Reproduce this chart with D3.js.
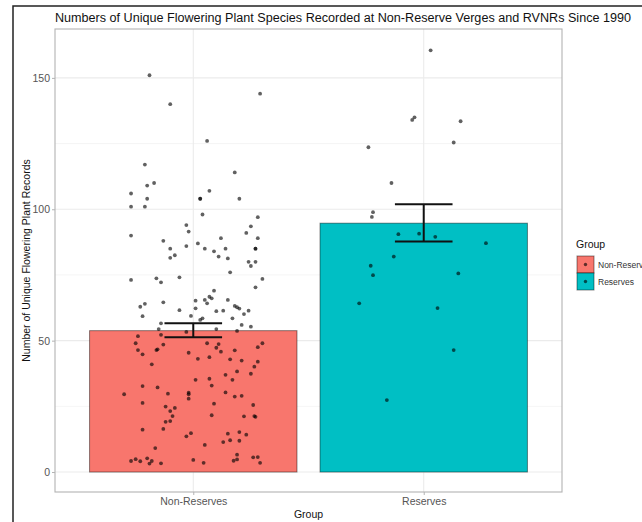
<!DOCTYPE html>
<html>
<head>
<meta charset="utf-8">
<script src="https://cdn.jsdelivr.net/npm/d3@7"></script>
<style>
  body { margin: 0; background: #fff; }
  svg { font-family: "Liberation Sans", Arial, sans-serif; }
</style>
</head>
<body>
<div id="chart"></div>
<script>
// groups and summary values
var groups = ['Non-Reserves', 'Reserves'];
var groupColors = ['#F8766D', '#00BFC4'];
var means = [53.8, 94.7];
var seLow = [51.3, 87.7];
var seHigh = [56.6, 101.9];
var yTicks = [0, 50, 100, 150];
var yMinor = [25, 75, 125];

// jittered points: [offset from group centre (in group steps), value]
var nonReservePts = [
  [-0.19,151],[0.29,144],[-0.10,140],[0.06,126],[-0.21,117],[0.18,114],[-0.20,109],[-0.17,110],
  [-0.27,106],[0.07,107],[-0.20,104],[0.03,104],[0.03,104],[0.20,104],[-0.27,101],[-0.21,101],
  [0.04,98],[0.28,97],[-0.03,94],[0.25,93.5],[-0.02,91.5],[0.23,91],[-0.27,90],[0.12,89],
  [0.28,89],[-0.13,88],[0.02,87],[-0.10,85],[-0.03,86],[0.05,85],[0.14,85],[0.27,85],[0.27,85],
  [0.09,84],[-0.08,82.5],[-0.10,81.5],[0.11,82],[0.15,81.3],[0.24,80],[0.27,80],[0.25,78.4],
  [0.16,76],[-0.27,73.1],[-0.16,73.7],[-0.14,72.2],[-0.06,74.1],[0.30,73.5],[0.27,70.3],
  [0.09,69],[0.07,66.7],[0.08,66.1],[0.01,65.2],[0.05,65.5],[0.06,64.2],[0.15,65.5],[-0.13,64.6],
  [-0.21,64],[-0.23,62.9],[0.18,63.2],[0.19,62.7],[0.20,62.2],[0.24,61.4],[0.22,60.1],[-0.06,61.6],
  [0.01,62.3],[0.10,61.2],[0.13,61.4],[-0.22,59.3],[-0.01,59.4],[0.03,57.9],[0.04,58.5],[0.17,58.5],
  [-0.14,56.6],[0.21,56],[0.25,55.3],[-0.15,54.4],[-0.03,53.3],[0.10,54.4],[0.19,53.7],
  [-0.24,51.7],[-0.14,52.2],[-0.25,49],[-0.13,48.5],[0.06,49],[0.11,48.7],[0.10,47.3],[0.30,49],
  [0.28,47.5],[-0.24,46.4],[-0.22,44.8],[-0.16,46.4],[-0.155,46.7],[-0.02,45.4],[0.12,45.8],
  [0.18,46.3],[0.02,43.1],[0.07,43.7],[0.16,42.9],[0.21,42.4],[0.28,42],[-0.18,41],[0.265,40.1],
  [0.19,38.3],[0.25,37.4],[0.14,37],[0.01,35.1],[0.07,35.5],[0.17,35.1],[0.08,32.9],[-0.22,32.7],
  [-0.155,32.2],[-0.30,29.6],[-0.11,29.8],[-0.02,30.2],[-0.02,29.6],[-0.02,27.9],[0.14,30.3],
  [0.18,28.7],[0.21,29],[-0.22,26.3],[0.09,26],[0.26,25.5],[-0.12,24.9],[-0.10,23.2],[-0.08,24.4],
  [-0.09,21.3],[0.08,21.6],[0.22,21.2],[0.265,21.3],[0.27,21],[-0.12,19.1],[-0.10,19.4],
  [-0.22,16.1],[-0.13,16.4],[-0.03,13.6],[-0.01,14.8],[0.15,14.6],[0.20,15.2],[0.23,14.2],
  [0.05,10.3],[0.13,11.4],[0.16,12.1],[0.20,11.9],[-0.165,9.1],[0.19,6.6],[-0.27,4.2],[-0.25,4.9],
  [-0.23,4.1],[-0.20,5.2],[-0.18,4.2],[-0.19,3.2],[-0.14,3.3],[0.00,4.6],[0.045,3.5],[0.175,4.3],
  [0.19,4.8],[0.26,5.6],[0.28,5.7],[0.29,3.5]
];
var reservePts = [
  [0.03,160.5],[-0.05,134],[-0.04,135],[0.16,133.5],[-0.24,123.6],[0.13,125.4],[-0.14,110],
  [-0.22,98.9],[-0.225,97.1],[-0.11,90.5],[-0.02,90.7],[0.05,89.5],[0.27,87.1],[-0.13,82],
  [-0.23,78.5],[-0.22,74.9],[0.15,75.6],[-0.28,64.2],[0.06,62.4],[0.13,46.4],[-0.16,27.4]
];

var W = 642, H = 522;
var panel = { left: 55, right: 562, top: 29, bottom: 492 };

var svg = d3.select('#chart').append('svg')
  .attr('width', W)
  .attr('height', H);

svg.append('rect').attr('width', W).attr('height', H).attr('fill', '#fff');

var x = d3.scalePoint()
  .domain(groups)
  .range([panel.left, panel.right])
  .padding(0.6);
var step = x.step();

var y = d3.scaleLinear()
  .domain([-7.6, 168.6])
  .range([panel.bottom, panel.top]);

// grid lines
var grid = svg.append('g');
grid.selectAll('.minor').data(yMinor).enter().append('line')
  .attr('x1', panel.left).attr('x2', panel.right)
  .attr('y1', function(d) { return y(d); }).attr('y2', function(d) { return y(d); })
  .attr('stroke', '#F3F3F3').attr('stroke-width', 0.8);
grid.selectAll('.major').data(yTicks).enter().append('line')
  .attr('x1', panel.left).attr('x2', panel.right)
  .attr('y1', function(d) { return y(d); }).attr('y2', function(d) { return y(d); })
  .attr('stroke', '#EBEBEB').attr('stroke-width', 1.1);
grid.selectAll('.vmajor').data(groups).enter().append('line')
  .attr('x1', function(d) { return x(d); }).attr('x2', function(d) { return x(d); })
  .attr('y1', panel.top).attr('y2', panel.bottom)
  .attr('stroke', '#EBEBEB').attr('stroke-width', 1.1);

// bars
var barW = step * 0.9;
svg.selectAll('.bar').data(groups).enter().append('rect')
  .attr('x', function(d) { return x(d) - barW / 2; })
  .attr('y', function(d, i) { return y(means[i]); })
  .attr('width', barW)
  .attr('height', function(d, i) { return y(0) - y(means[i]); })
  .attr('fill', function(d, i) { return groupColors[i]; })
  .attr('stroke', '#000').attr('stroke-opacity', 0.45).attr('stroke-width', 1);

// points
var allPts = [];
nonReservePts.forEach(function(p) { allPts.push({ g: groups[0], off: p[0], v: p[1] }); });
reservePts.forEach(function(p) { allPts.push({ g: groups[1], off: p[0], v: p[1] }); });
svg.selectAll('.pt').data(allPts).enter().append('circle')
  .attr('cx', function(d) { return x(d.g) + d.off * step; })
  .attr('cy', function(d) { return y(d.v); })
  .attr('r', 1.9)
  .attr('fill', '#000').attr('fill-opacity', 0.62);

// error bars
var capW = step * 0.25;
var eb = svg.selectAll('.eb').data(groups).enter().append('g')
  .attr('stroke', '#111').attr('stroke-width', 2);
eb.append('line')
  .attr('x1', function(d) { return x(d); }).attr('x2', function(d) { return x(d); })
  .attr('y1', function(d, i) { return y(seLow[i]); }).attr('y2', function(d, i) { return y(seHigh[i]); });
eb.append('line')
  .attr('x1', function(d) { return x(d) - capW / 2; }).attr('x2', function(d) { return x(d) + capW / 2; })
  .attr('y1', function(d, i) { return y(seLow[i]); }).attr('y2', function(d, i) { return y(seLow[i]); });
eb.append('line')
  .attr('x1', function(d) { return x(d) - capW / 2; }).attr('x2', function(d) { return x(d) + capW / 2; })
  .attr('y1', function(d, i) { return y(seHigh[i]); }).attr('y2', function(d, i) { return y(seHigh[i]); });

// panel border
svg.append('rect')
  .attr('x', panel.left).attr('y', panel.top)
  .attr('width', panel.right - panel.left).attr('height', panel.bottom - panel.top)
  .attr('fill', 'none').attr('stroke', '#B3B3B3').attr('stroke-width', 1.1);

// axes
var yAxis = svg.append('g')
  .attr('transform', 'translate(' + panel.left + ',0)')
  .call(d3.axisLeft(y).tickValues(yTicks).tickSize(3).tickPadding(2));
var xAxis = svg.append('g')
  .attr('transform', 'translate(0,' + panel.bottom + ')')
  .call(d3.axisBottom(x).tickSize(3).tickPadding(3));
[yAxis, xAxis].forEach(function(a) {
  a.select('.domain').remove();
  a.selectAll('.tick line').attr('stroke', '#B3B3B3');
  a.selectAll('.tick text').attr('fill', '#555').style('font-size', '10.5px')
    .style('font-family', '"Liberation Sans", Arial, sans-serif');
});

// titles
svg.append('text')
  .attr('x', panel.left).attr('y', 22)
  .attr('textLength', 576).attr('lengthAdjust', 'spacingAndGlyphs')
  .style('font-size', '12.5px').attr('fill', '#111')
  .text('Numbers of Unique Flowering Plant Species Recorded at Non-Reserve Verges and RVNRs Since 1990');

svg.append('text')
  .attr('transform', 'translate(30,' + ((panel.top + panel.bottom) / 2) + ') rotate(-90)')
  .attr('text-anchor', 'middle')
  .style('font-size', '10.5px').attr('fill', '#111')
  .text('Number of Unique Flowering Plant Records');

svg.append('text')
  .attr('x', (panel.left + panel.right) / 2).attr('y', 518)
  .attr('text-anchor', 'middle')
  .style('font-size', '10.5px').attr('fill', '#111')
  .text('Group');

// legend
var lg = svg.append('g').attr('transform', 'translate(576,0)');
lg.append('text').attr('x', 0).attr('y', 248)
  .style('font-size', '10.5px').attr('fill', '#111').text('Group');
var items = lg.selectAll('.item').data(groups).enter().append('g')
  .attr('transform', function(d, i) { return 'translate(1,' + (256 + i * 17) + ')'; });
items.append('rect')
  .attr('width', 17).attr('height', 17)
  .attr('fill', function(d, i) { return groupColors[i]; })
  .attr('stroke', '#000').attr('stroke-opacity', 0.45).attr('stroke-width', 1);
items.append('circle').attr('cx', 8.5).attr('cy', 8.5).attr('r', 1.7)
  .attr('fill', '#000').attr('fill-opacity', 0.62);
items.append('text').attr('x', 21).attr('y', 12)
  .style('font-size', '8.5px').attr('fill', '#333')
  .text(function(d) { return d; });

// frame of the screenshot
svg.append('path')
  .attr('d', 'M13,' + H + 'V6H' + W)
  .attr('fill', 'none').attr('stroke', '#222').attr('stroke-width', 1.5);
</script>
</body>
</html>
